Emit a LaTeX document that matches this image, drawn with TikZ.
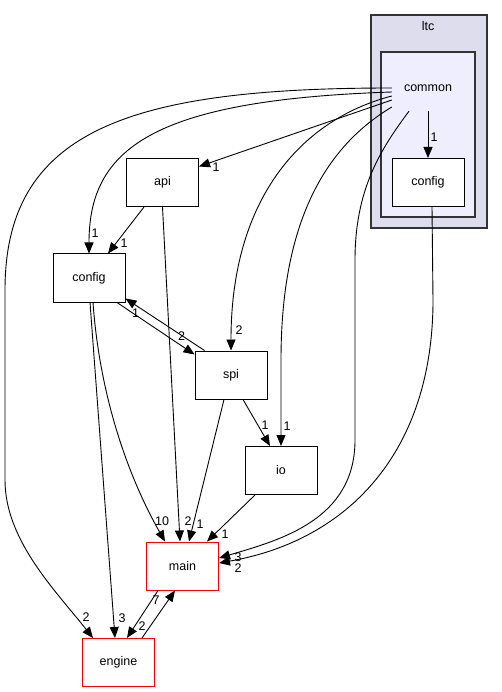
\documentclass[tikz,border=0pt]{standalone}
\usepackage{fontspec}
\setmainfont{Liberation Sans}
\usetikzlibrary{arrows.meta}

\tikzset{
  dirbox/.style={draw=black, fill=white, line width=1pt, minimum width=72pt, minimum height=48pt, inner sep=0pt},
  dirred/.style={dirbox, draw=red},
  cluster/.style={draw=black!80, line width=1.2pt, inner sep=0pt},
  lbl/.style={inner sep=0pt},
  dep/.style={->, line width=0.9pt}
}

\begin{document}
\begin{tikzpicture}[x=1pt, y=-1pt, >={Triangle[length=11pt,width=9pt]},
  every node/.style={font=\fontsize{12.5}{15}\selectfont}]

\useasboundingbox (0,0) rectangle (501,692);

% Cartelle ltc / common
\node[cluster, fill={rgb,255:red,221;green,221;blue,238}, minimum width=116pt, minimum height=213pt] (ltc) at (429,121.5) {};
\node[lbl] (ltctitle) at (428,26) {ltc};
\node[cluster, fill={rgb,255:red,238;green,238;blue,255}, minimum width=94pt, minimum height=165pt] (commonbox) at (428,134.5) {};
\node[minimum width=76pt, minimum height=46pt, inner sep=0pt] (common) at (428,88) {common};
\node[dirbox] (cfgl) at (428,182.5) {config};

% Cartelle
\node[dirbox] (api) at (162.5,182.5) {api};
\node[dirbox] (config) at (89,278) {config};
\node[dirbox] (spi) at (231,375) {spi};
\node[dirbox] (io) at (281,470.5) {io};
\node[dirred] (main) at (182.5,566) {main};
\node[dirred] (engine) at (118.5,662.5) {engine};

% Dipendenze da common
\draw[dep] (common.south) -- (cfgl.north)
  node[lbl, at end, xshift=6pt, yshift=21pt] {1};
\draw[dep] ([shift={(2pt,-12pt)}]common.west) -- ([yshift=-8.5pt]api.north east)
  node[lbl, at end, xshift=17pt, yshift=-1pt] {1};
\draw[dep] ([shift={(2pt,-4pt)}]common.west) .. controls (150,100) and (89,150) .. (config.north)
  node[lbl, at end, xshift=6pt, yshift=20pt] {1};
\draw[dep] ([xshift=2pt]common.west) .. controls (130,88) and (5,130) .. (5,290) -- (5,480)
  .. controls (5,540) and (55,590) .. ([xshift=-25.5pt]engine.north)
  node[lbl, at end, xshift=-7pt, yshift=21pt] {2};
\draw[dep] ([shift={(2pt,-8pt)}]common.west) .. controls (300,120) and (231,200) .. (spi.north)
  node[lbl, at end, xshift=8pt, yshift=20pt] {2};
\draw[dep] ([shift={(2pt,-19pt)}]common.west) .. controls (320,150) and (281,230) .. (281,360) -- (io.north)
  node[lbl, at end, xshift=6pt, yshift=20pt] {1};
\draw[dep] ([xshift=-19pt]common.south) .. controls (380,150) and (355,190) .. (355,260) -- (355,440)
  .. controls (355,520) and (280,540) .. ([yshift=8pt]main.east)
  node[lbl, at end, xshift=19pt, yshift=1pt] {3};
\draw[dep] ([xshift=4pt]cfgl.south) -- (433,300) .. controls (433,450) and (350,540) .. ([yshift=3pt]main.east)
  node[lbl, at end, xshift=19pt, yshift=-5pt] {2};

% Altre dipendenze
\draw[dep] ([xshift=-18.5pt]api.south) -- ([xshift=19pt]config.north)
  node[lbl, at end, xshift=16pt, yshift=10pt] {1};
\draw[dep] (api.south) -- ([xshift=-2.5pt]main.north)
  node[lbl, at end, xshift=8pt, yshift=20pt] {2};
\draw[dep] ([xshift=28pt]config.south) -- ([yshift=-4pt]spi.north west)
  node[lbl, at end, xshift=-13pt, yshift=18pt] {2};
\draw[dep] ([xshift=10pt]spi.north west) -- ([yshift=4pt]config.south east)
  node[lbl, at end, xshift=10pt, yshift=-15pt] {1};
\draw[dep] ([xshift=4pt]config.south) .. controls (100,400) and (130,480) .. ([xshift=-17.5pt]main.north)
  node[lbl, at end, xshift=-3pt, yshift=20pt] {10};
\draw[dep] ([xshift=1pt]config.south) -- ([xshift=-3.5pt]engine.north)
  node[lbl, at end, xshift=7pt, yshift=20pt] {3};
\draw[dep] ([xshift=-7pt]spi.south) -- ([xshift=6.5pt]main.north)
  node[lbl, at end, xshift=11pt, yshift=17pt] {1};
\draw[dep] ([xshift=12pt]spi.south) -- ([xshift=-11pt]io.north)
  node[lbl, at end, xshift=-5pt, yshift=21pt] {1};
\draw[dep] ([xshift=-26pt]io.south) -- ([xshift=24.5pt]main.north)
  node[lbl, at end, xshift=18pt, yshift=7pt] {1};
\draw[dep] ([xshift=-24.5pt]main.south) -- ([xshift=8.5pt]engine.north)
  node[lbl, at end, xshift=15pt, yshift=12pt] {2};
\draw[dep] ([xshift=23.5pt]engine.north) -- ([xshift=-7.5pt]main.south)
  node[lbl, at end, xshift=-19pt, yshift=-10pt] {7};

\end{tikzpicture}
\end{document}
